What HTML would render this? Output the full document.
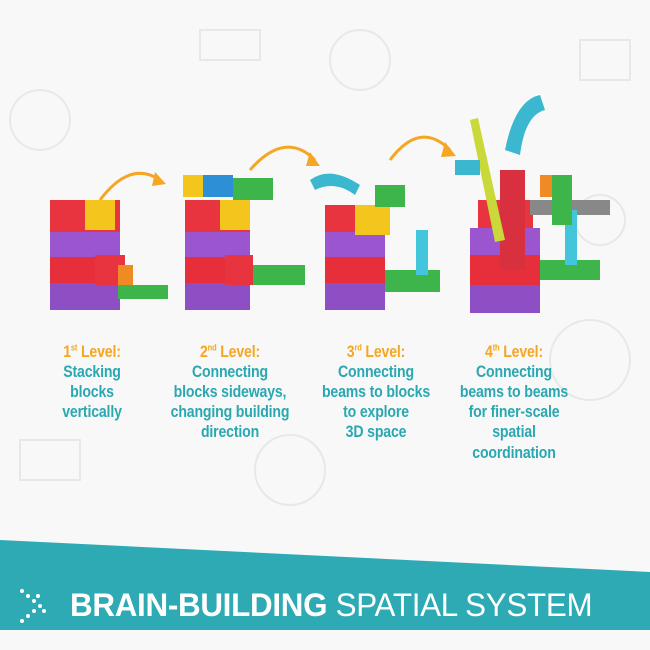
<!DOCTYPE html>
<html><head><style>
body{margin:0;width:650px;height:650px;background:#fff;overflow:hidden;position:relative;font-family:"Liberation Sans",sans-serif}
.bg{position:absolute;left:0;top:0;width:650px;height:650px;background:#f8f8f8}
.t{position:absolute;top:337px;width:180px;text-align:center;font-weight:bold;font-size:17px;line-height:20.2px;color:#2aa8b2;letter-spacing:-0.2px;transform:scaleX(0.83);transform-origin:center top}
.t b{color:#f5a623}
sup{font-size:9px}
.title{position:absolute;left:70px;top:587px;color:#fff;font-size:32px;letter-spacing:-0.3px;white-space:nowrap;transform:scaleX(0.98);transform-origin:left top}
.title span{font-weight:normal}
</style></head><body>
<div class="bg"></div>
<svg width="650" height="650" style="position:absolute;left:0;top:0">
<g stroke="#e8e8e8" fill="none" stroke-width="2">
<circle cx="40" cy="120" r="30"/><circle cx="590" cy="360" r="40"/><circle cx="290" cy="470" r="35"/><circle cx="360" cy="60" r="30"/><rect x="580" y="40" width="50" height="40"/><rect x="20" y="440" width="60" height="40"/><circle cx="600" cy="220" r="25"/><rect x="200" y="30" width="60" height="30"/>
</g>
<g stroke="#f5a623" stroke-width="3" fill="none">
<path d="M100 200 Q130 160 160 180"/><path d="M250 170 Q285 130 315 160"/><path d="M390 160 Q420 120 450 150"/>
</g>
<g fill="#f5a623"><path d="M155 172 L166 184 L152 186Z"/><path d="M310 152 L320 166 L306 166Z"/><path d="M445 142 L456 156 L441 157Z"/></g>
<rect x="50" y="280" width="70" height="30" fill="#8e4fc4"/><rect x="50" y="255" width="70" height="28" fill="#e62f3a"/><rect x="50" y="230" width="70" height="27" fill="#9a55cf"/><rect x="50" y="200" width="70" height="32" fill="#e8343f"/><rect x="85" y="200" width="30" height="30" fill="#f4c51c"/><rect x="95" y="255" width="30" height="30" fill="#e8343f"/><rect x="118" y="265" width="15" height="20" fill="#f08a24"/><rect x="118" y="285" width="50" height="14" fill="#3db54a"/>
<rect x="185" y="280" width="65" height="30" fill="#8e4fc4"/><rect x="185" y="255" width="65" height="28" fill="#e62f3a"/><rect x="185" y="230" width="65" height="27" fill="#9a55cf"/><rect x="185" y="200" width="65" height="32" fill="#e8343f"/><rect x="220" y="200" width="30" height="30" fill="#f4c51c"/><rect x="183" y="175" width="20" height="22" fill="#f4c51c"/><rect x="203" y="175" width="30" height="22" fill="#2d8fd6"/><rect x="233" y="178" width="40" height="22" fill="#3db54a"/><rect x="250" y="265" width="55" height="20" fill="#3db54a"/><rect x="225" y="255" width="28" height="30" fill="#e8343f"/>
<rect x="325" y="280" width="60" height="30" fill="#8e4fc4"/><rect x="325" y="255" width="60" height="28" fill="#e62f3a"/><rect x="325" y="230" width="60" height="27" fill="#9a55cf"/><rect x="325" y="205" width="60" height="27" fill="#e8343f"/><rect x="355" y="205" width="35" height="30" fill="#f4c51c"/><rect x="375" y="185" width="30" height="22" fill="#3db54a"/><path d="M310 180 Q330 165 360 185 L355 195 Q335 180 315 190Z" fill="#3bb8d0"/><rect x="385" y="270" width="55" height="22" fill="#3db54a"/><rect x="416" y="230" width="12" height="45" fill="#43c6db"/>
<rect x="470" y="285" width="70" height="28" fill="#8e4fc4"/><rect x="470" y="255" width="70" height="30" fill="#e62f3a"/><rect x="470" y="228" width="70" height="27" fill="#9a55cf"/><rect x="478" y="200" width="55" height="28" fill="#e8343f"/><rect x="500" y="170" width="25" height="100" fill="#d93040"/><rect x="540" y="260" width="60" height="20" fill="#3db54a"/><rect x="530" y="200" width="80" height="15" fill="#888"/><rect x="565" y="210" width="12" height="55" fill="#43c6db"/><rect x="540" y="175" width="30" height="22" fill="#f08a24"/><rect x="552" y="175" width="20" height="50" fill="#3db54a"/><path d="M470 120 L478 118 L505 240 L495 242Z" fill="#c9d93a"/><path d="M505 150 Q515 100 540 95 L545 110 Q525 115 520 155Z" fill="#3bb8d0"/><rect x="455" y="160" width="25" height="15" fill="#3bb8d0"/>
<polygon points="0,540 650,572 650,630 0,630" fill="#2eaab5"/>
<g fill="#fff"><circle cx="22" cy="591" r="2"/><circle cx="28" cy="596" r="2"/><circle cx="34" cy="601" r="2"/><circle cx="40" cy="606" r="2"/><circle cx="34" cy="611" r="2"/><circle cx="28" cy="616" r="2"/><circle cx="22" cy="621" r="2"/><circle cx="44" cy="611" r="2"/><circle cx="38" cy="596" r="2"/></g>
</svg>
<div class="t" style="left:2px"><b>1<sup>st</sup> Level:</b><br>Stacking<br>blocks<br>vertically</div>
<div class="t" style="left:140px"><b>2<sup>nd</sup> Level:</b><br>Connecting<br>blocks sideways,<br>changing building<br>direction</div>
<div class="t" style="left:286px"><b>3<sup>rd</sup> Level:</b><br>Connecting<br>beams to blocks<br>to explore<br>3D space</div>
<div class="t" style="left:424px"><b>4<sup>th</sup> Level:</b><br>Connecting<br>beams to beams<br>for finer-scale<br>spatial<br>coordination</div>
<div class="title"><b>BRAIN-BUILDING</b> <span>SPATIAL SYSTEM</span></div>
</body></html>
